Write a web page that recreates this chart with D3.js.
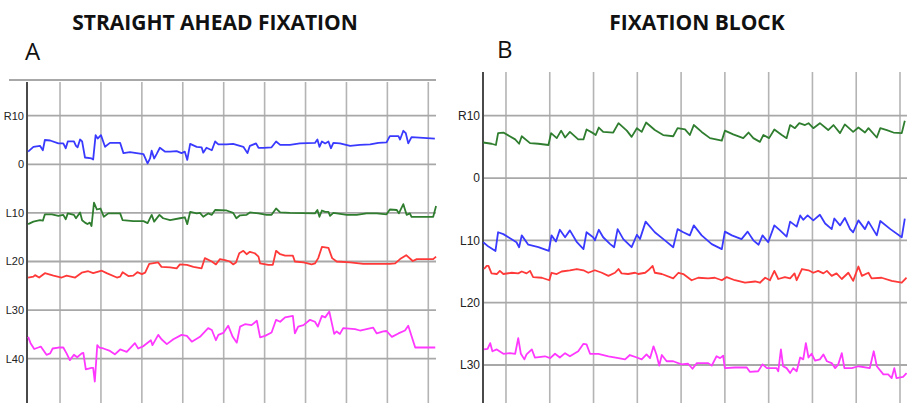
<!DOCTYPE html>
<html>
<head>
<meta charset="utf-8">
<script src="https://cdn.jsdelivr.net/npm/d3@7"></script>
<style>
  body { margin: 0; background: #fff; }
  svg { display: block; }
</style>
</head>
<body>
<div id="chart"></div>
<script>
// eye position traces, [time (s), position (deg, R positive / L negative)]
const aBlue = [[0.22,2.6],[0.35,3.6],[0.51,3.8],[0.58,2.9],[0.63,5.0],[0.76,4.9],[0.96,4.3],[1.08,4.3],[1.14,3.3],[1.19,4.7],[1.34,4.7],[1.39,3.8],[1.43,3.5],[1.49,5.1],[1.54,4.7],[1.61,1.4],[1.77,1.2],[1.81,1.0],[1.87,6.0],[1.92,5.3],[2.00,6.0],[2.10,3.6],[2.22,4.4],[2.47,4.4],[2.55,2.3],[2.71,2.5],[2.87,2.3],[3.04,2.1],[3.14,0.2],[3.20,1.2],[3.24,2.8],[3.30,1.2],[3.36,2.1],[3.44,3.4],[3.57,2.6],[3.69,2.6],[3.85,2.7],[3.97,2.3],[4.05,2.6],[4.11,0.9],[4.18,4.2],[4.34,3.6],[4.46,3.5],[4.50,2.4],[4.58,3.4],[4.71,2.9],[4.79,4.7],[4.87,4.1],[5.07,4.1],[5.23,4.2],[5.48,3.6],[5.58,2.3],[5.64,3.8],[5.79,4.3],[5.85,3.4],[5.97,3.4],[6.17,3.5],[6.28,4.7],[6.38,4.0],[6.62,4.0],[6.86,4.3],[7.23,4.4],[7.29,5.1],[7.34,3.6],[7.40,4.7],[7.48,4.3],[7.56,4.7],[7.62,3.3],[7.68,4.4],[7.84,4.3],[8.09,3.8],[8.33,4.0],[8.58,4.1],[8.78,4.4],[8.98,4.5],[9.06,5.8],[9.27,5.8],[9.31,5.1],[9.39,6.9],[9.45,6.4],[9.51,4.3],[9.59,5.6],[10.16,5.3]];
const aGreen = [[0.22,-12.3],[0.35,-11.8],[0.51,-11.5],[0.58,-11.6],[0.63,-10.3],[0.80,-10.3],[0.96,-10.6],[1.08,-10.4],[1.14,-11.3],[1.19,-10.1],[1.34,-10.4],[1.39,-11.1],[1.49,-9.9],[1.54,-11.5],[1.61,-12.0],[1.67,-12.3],[1.73,-12.0],[1.77,-12.7],[1.83,-7.9],[1.90,-9.3],[1.99,-9.1],[2.07,-10.8],[2.18,-10.1],[2.47,-10.1],[2.53,-11.5],[2.79,-11.7],[3.04,-11.7],[3.14,-12.1],[3.24,-10.4],[3.30,-11.8],[3.43,-10.4],[3.52,-11.1],[3.69,-11.5],[3.93,-11.1],[4.05,-10.9],[4.11,-12.3],[4.18,-9.8],[4.34,-10.1],[4.42,-10.0],[4.50,-10.8],[4.62,-10.1],[4.71,-10.4],[4.79,-9.4],[5.07,-9.5],[5.23,-10.0],[5.31,-11.1],[5.40,-10.5],[5.56,-10.4],[5.64,-9.9],[5.85,-10.1],[6.05,-10.4],[6.17,-10.4],[6.28,-9.1],[6.38,-9.9],[6.62,-10.0],[7.23,-10.1],[7.29,-9.4],[7.34,-10.8],[7.40,-9.5],[7.48,-9.8],[7.56,-9.8],[7.60,-10.6],[7.68,-10.0],[8.01,-10.4],[8.25,-10.4],[8.49,-10.1],[8.74,-10.1],[8.98,-10.3],[9.06,-9.3],[9.23,-9.4],[9.28,-10.1],[9.39,-8.2],[9.47,-10.4],[9.55,-10.1],[9.59,-10.8],[10.12,-10.8],[10.19,-8.6]];
const aRed = [[0.22,-23.3],[0.35,-23.1],[0.39,-22.8],[0.49,-23.3],[0.63,-22.4],[0.84,-22.9],[1.04,-23.3],[1.16,-22.9],[1.37,-23.3],[1.53,-22.3],[1.69,-22.0],[1.81,-22.4],[2.02,-21.9],[2.14,-22.4],[2.39,-23.3],[2.47,-23.1],[2.53,-22.2],[2.67,-23.0],[2.79,-22.9],[2.89,-22.2],[3.00,-22.6],[3.08,-22.3],[3.18,-20.5],[3.40,-20.2],[3.48,-21.1],[3.69,-21.2],[3.85,-21.4],[3.93,-20.6],[4.10,-20.7],[4.26,-21.1],[4.46,-21.4],[4.54,-19.3],[4.71,-20.0],[4.81,-20.6],[4.91,-19.5],[5.03,-19.7],[5.15,-20.0],[5.23,-20.6],[5.30,-20.2],[5.38,-18.3],[5.48,-17.8],[5.56,-18.5],[5.64,-18.0],[5.76,-18.3],[5.85,-19.0],[5.89,-20.4],[6.09,-20.7],[6.20,-20.7],[6.28,-17.8],[6.38,-18.5],[6.50,-18.8],[6.69,-18.8],[6.74,-20.0],[6.95,-20.2],[7.15,-20.6],[7.23,-20.4],[7.31,-19.3],[7.40,-17.0],[7.56,-17.2],[7.65,-19.3],[7.76,-20.0],[8.09,-20.2],[8.41,-20.5],[8.74,-20.5],[9.06,-20.5],[9.19,-20.4],[9.31,-19.5],[9.46,-18.7],[9.62,-19.9],[9.72,-19.5],[10.12,-19.5],[10.19,-19.0]];
const aMagenta = [[0.22,-35.5],[0.28,-36.8],[0.37,-38.0],[0.47,-37.7],[0.53,-37.5],[0.67,-39.2],[0.76,-38.9],[0.82,-37.9],[0.96,-37.7],[1.08,-37.7],[1.16,-38.9],[1.24,-40.3],[1.34,-39.2],[1.42,-39.7],[1.53,-38.9],[1.57,-38.8],[1.63,-42.2],[1.77,-41.9],[1.81,-41.9],[1.85,-44.7],[1.91,-37.2],[1.96,-37.7],[2.06,-37.9],[2.22,-38.4],[2.34,-39.1],[2.47,-38.1],[2.63,-38.6],[2.83,-36.8],[2.91,-37.9],[3.04,-37.4],[3.22,-36.2],[3.26,-37.2],[3.40,-35.1],[3.48,-36.0],[3.61,-37.0],[3.77,-36.0],[3.97,-35.1],[4.10,-35.3],[4.22,-36.5],[4.42,-35.5],[4.62,-33.7],[4.71,-34.1],[4.81,-36.2],[4.87,-35.1],[4.99,-34.7],[5.11,-33.2],[5.22,-35.5],[5.32,-36.7],[5.40,-33.4],[5.52,-32.9],[5.68,-33.1],[5.81,-32.2],[5.89,-35.6],[6.01,-35.3],[6.17,-34.6],[6.28,-32.0],[6.38,-32.4],[6.50,-31.5],[6.69,-31.2],[6.74,-34.8],[6.82,-33.4],[6.95,-33.1],[7.11,-32.0],[7.23,-32.4],[7.30,-33.4],[7.40,-31.2],[7.48,-31.5],[7.58,-30.3],[7.70,-34.9],[7.76,-34.4],[7.84,-34.9],[7.92,-33.7],[8.21,-33.9],[8.33,-34.2],[8.49,-33.9],[8.65,-33.6],[8.74,-34.8],[8.90,-34.4],[8.98,-34.3],[9.11,-35.5],[9.27,-34.8],[9.43,-34.2],[9.51,-33.2],[9.68,-37.7],[10.17,-37.7]];

const bGreen = [[0.48,5.7],[0.67,5.5],[0.77,5.3],[0.82,7.2],[0.94,7.3],[1.21,6.2],[1.30,5.5],[1.36,6.7],[1.55,5.6],[1.74,5.5],[1.97,5.3],[2.03,7.2],[2.16,6.4],[2.26,7.6],[2.35,6.5],[2.46,7.4],[2.65,6.2],[2.77,6.2],[2.84,7.8],[2.99,7.2],[3.05,6.9],[3.12,8.1],[3.22,7.4],[3.45,7.3],[3.57,8.8],[3.76,7.6],[3.87,6.6],[3.99,8.0],[4.10,7.4],[4.20,8.9],[4.40,7.7],[4.59,6.9],[4.82,6.7],[4.92,8.0],[5.09,7.8],[5.20,6.9],[5.29,8.5],[5.47,7.4],[5.66,6.4],[5.93,6.0],[6.00,7.6],[6.19,7.0],[6.42,6.4],[6.54,7.3],[6.65,6.4],[6.80,5.8],[6.88,6.9],[7.01,6.4],[7.13,7.8],[7.30,6.9],[7.41,6.4],[7.49,8.5],[7.60,8.0],[7.70,8.8],[7.83,8.5],[7.91,8.8],[8.02,8.0],[8.17,8.8],[8.36,7.7],[8.48,8.5],[8.63,7.2],[8.74,8.6],[8.93,7.4],[9.05,8.1],[9.20,7.3],[9.28,8.0],[9.47,6.5],[9.55,8.0],[9.70,7.7],[9.85,7.3],[10.04,7.2],[10.11,9.2]];
const bBlue = [[0.48,-10.3],[0.60,-11.0],[0.76,-11.7],[0.82,-8.7],[0.94,-9.0],[1.24,-10.3],[1.30,-11.1],[1.36,-9.2],[1.51,-10.7],[1.74,-11.1],[1.98,-11.7],[2.04,-9.2],[2.14,-10.2],[2.23,-8.3],[2.35,-9.5],[2.46,-8.4],[2.62,-10.3],[2.77,-11.4],[2.84,-8.7],[2.99,-9.5],[3.03,-10.0],[3.12,-8.3],[3.22,-9.5],[3.38,-10.6],[3.47,-11.1],[3.55,-8.2],[3.68,-9.8],[3.87,-11.1],[3.99,-9.1],[4.06,-9.8],[4.19,-7.0],[4.40,-8.7],[4.63,-10.0],[4.82,-11.1],[4.92,-8.2],[5.05,-8.7],[5.20,-9.2],[5.29,-7.6],[5.47,-9.2],[5.70,-10.6],[5.93,-11.4],[6.00,-8.6],[6.16,-9.2],[6.38,-9.8],[6.52,-8.6],[6.65,-10.0],[6.77,-10.7],[6.86,-9.2],[6.99,-10.3],[7.13,-7.6],[7.26,-8.4],[7.41,-9.4],[7.49,-7.0],[7.64,-7.8],[7.72,-6.0],[7.79,-6.7],[7.89,-6.0],[8.02,-6.8],[8.17,-5.9],[8.29,-7.3],[8.44,-8.2],[8.50,-6.5],[8.63,-7.6],[8.74,-6.4],[8.86,-8.2],[8.93,-8.7],[9.05,-6.8],[9.20,-8.2],[9.28,-7.0],[9.47,-9.2],[9.55,-6.9],[9.78,-8.2],[10.04,-9.5],[10.11,-6.5]];
const bRed = [[0.50,-14.6],[0.56,-14.1],[0.60,-14.1],[0.67,-15.3],[0.79,-15.4],[0.86,-14.9],[0.94,-15.4],[1.13,-15.2],[1.28,-15.3],[1.36,-15.0],[1.47,-15.3],[1.55,-14.9],[1.62,-15.9],[1.82,-16.0],[1.99,-16.4],[2.04,-15.2],[2.16,-15.4],[2.27,-15.0],[2.46,-14.8],[2.62,-14.6],[2.77,-14.8],[2.88,-15.2],[3.03,-14.8],[3.19,-15.2],[3.34,-15.7],[3.49,-15.2],[3.57,-14.6],[3.64,-15.3],[3.79,-15.4],[3.95,-15.2],[4.02,-15.4],[4.18,-15.2],[4.25,-14.8],[4.35,-14.1],[4.40,-15.2],[4.56,-15.4],[4.82,-16.1],[4.94,-15.2],[5.05,-15.4],[5.24,-16.4],[5.39,-16.0],[5.62,-16.1],[5.77,-16.0],[5.93,-16.4],[6.04,-15.9],[6.23,-16.4],[6.46,-16.8],[6.69,-16.6],[6.80,-16.8],[6.92,-16.0],[7.03,-16.4],[7.13,-14.9],[7.22,-16.2],[7.37,-15.9],[7.49,-16.1],[7.59,-15.3],[7.64,-16.4],[7.76,-14.6],[7.91,-14.8],[8.02,-15.2],[8.13,-14.9],[8.25,-15.3],[8.33,-14.9],[8.44,-15.7],[8.55,-15.3],[8.67,-16.2],[8.82,-15.2],[8.93,-16.5],[9.05,-14.2],[9.13,-15.7],[9.28,-15.2],[9.35,-16.1],[9.58,-16.0],[9.81,-16.5],[10.04,-16.8],[10.15,-16.0]];
const bMagenta = [[0.50,-27.5],[0.58,-27.4],[0.64,-26.5],[0.69,-27.8],[0.79,-27.5],[0.94,-28.2],[1.09,-28.1],[1.21,-28.2],[1.28,-25.7],[1.34,-28.2],[1.42,-29.1],[1.47,-28.3],[1.59,-27.5],[1.66,-28.8],[1.89,-28.6],[2.01,-28.9],[2.12,-28.2],[2.23,-28.8],[2.35,-28.1],[2.46,-28.6],[2.65,-27.8],[2.77,-26.6],[2.84,-26.7],[2.92,-28.2],[3.11,-28.2],[3.34,-28.6],[3.57,-28.9],[3.72,-29.1],[3.83,-28.4],[3.99,-28.8],[4.10,-29.1],[4.21,-28.3],[4.29,-28.9],[4.37,-27.0],[4.44,-28.4],[4.50,-30.1],[4.56,-28.4],[4.67,-29.4],[4.82,-29.4],[5.01,-29.9],[5.16,-29.8],[5.26,-30.6],[5.36,-29.7],[5.62,-29.7],[5.70,-30.1],[5.81,-28.6],[5.89,-28.9],[5.96,-28.5],[6.00,-30.5],[6.23,-30.4],[6.50,-30.4],[6.57,-31.1],[6.76,-31.0],[6.86,-29.9],[6.96,-30.5],[7.18,-30.5],[7.22,-31.0],[7.28,-27.5],[7.33,-30.2],[7.41,-30.5],[7.49,-31.3],[7.56,-30.5],[7.64,-31.0],[7.72,-28.8],[7.79,-29.1],[7.85,-26.5],[7.91,-28.8],[7.98,-28.2],[8.06,-29.3],[8.17,-29.1],[8.25,-28.3],[8.33,-29.4],[8.44,-29.7],[8.52,-30.5],[8.59,-29.9],[8.67,-28.1],[8.73,-30.5],[8.90,-30.5],[9.05,-30.2],[9.31,-30.5],[9.40,-27.8],[9.47,-30.2],[9.62,-31.5],[9.73,-31.5],[9.81,-32.1],[9.87,-30.5],[9.92,-32.1],[10.07,-31.9],[10.15,-31.3]];

const aTicks = [10, 0, -10, -20, -30, -40];
const aTickLabels = ['R10', '0', 'L10', 'L20', 'L30', 'L40'];
const bTicks = [10, 0, -10, -20, -30];
const bTickLabels = ['R10', '0', 'L10', 'L20', 'L30'];
const timeTicks = [1, 2, 3, 4, 5, 6, 7, 8, 9, 10];

const width = 907;
const height = 403;

const svg = d3
  .select('#chart')
  .append('svg')
  .attr('width', width)
  .attr('height', height)
  .style('background-color', '#fff');

const gridColor = '#b4b4b4';

/**
 * one recording panel: axis, grid, labels and traces
 */
const drawPanel = function(p) {
  const x = d3.scaleLinear().domain([0, 10]).range(p.xRange);
  const y = d3.scaleLinear().domain(p.yDomain).range(p.yRange);
  const g = svg.append('g');

  if (p.topLine) {
    g.append('line')
      .attr('x1', p.topLine[0]).attr('x2', p.right)
      .attr('y1', p.topLine[1]).attr('y2', p.topLine[1])
      .attr('stroke', '#a8a8a8').attr('stroke-width', 2);
  }

  // vertical grid
  g.selectAll('line.vgrid')
    .data(timeTicks)
    .enter()
    .append('line')
    .attr('class', 'vgrid')
    .attr('x1', d => x(d)).attr('x2', d => x(d))
    .attr('y1', p.gridTop).attr('y2', height)
    .attr('stroke', gridColor).attr('stroke-width', 1.6);

  // horizontal grid
  g.selectAll('line.hgrid')
    .data(p.ticks)
    .enter()
    .append('line')
    .attr('class', 'hgrid')
    .attr('x1', p.axisX).attr('x2', p.right)
    .attr('y1', d => y(d)).attr('y2', d => y(d))
    .attr('stroke', '#a8a8a8').attr('stroke-width', 1.8);

  // left axis
  g.append('line')
    .attr('x1', p.axisX).attr('x2', p.axisX)
    .attr('y1', p.gridTop).attr('y2', height)
    .attr('stroke', '#4a4a4a').attr('stroke-width', 2);

  g.selectAll('text.tick')
    .data(p.ticks)
    .enter()
    .append('text')
    .attr('class', 'tick')
    .attr('x', p.axisX - 3)
    .attr('y', d => y(d) + p.labelSize * 0.36)
    .attr('text-anchor', 'end')
    .style('font-family', '"Liberation Sans Narrow", "Arial Narrow", sans-serif')
    .style('font-size', p.labelSize + 'px')
    .attr('fill', '#222')
    .text((d, i) => p.tickLabels[i]);

  const line = d3.line().x(d => x(d[0])).y(d => y(d[1]));

  p.traces.forEach(tr => {
    g.append('path')
      .datum(tr.data)
      .attr('d', line)
      .attr('fill', 'none')
      .attr('stroke', tr.color)
      .attr('stroke-width', 1.8)
      .attr('stroke-linejoin', 'round');
  });

  svg.append('text')
    .attr('x', p.titleX).attr('y', 30)
    .attr('text-anchor', 'middle')
    .style('font-family', '"Open Sans", sans-serif')
    .style('font-weight', 700)
    .style('font-size', '21px')
    .attr('fill', '#111')
    .text(p.title);

  svg.append('text')
    .attr('x', p.letterX).attr('y', p.letterY)
    .style('font-family', '"Open Sans", sans-serif')
    .style('font-size', '24px')
    .attr('fill', '#111')
    .text(p.letter);
};

drawPanel({
  title: 'STRAIGHT AHEAD FIXATION',
  titleX: 215,
  letter: 'A',
  letterX: 25,
  letterY: 60,
  xRange: [19.1, 428.3],
  yDomain: [10, -40],
  yRange: [115.7, 358.7],
  axisX: 27,
  right: 436,
  gridTop: 82,
  topLine: [9, 80],
  ticks: aTicks,
  tickLabels: aTickLabels,
  labelSize: 11,
  traces: [
    { data: aBlue, color: '#3a3aff' },
    { data: aGreen, color: '#2f7d2f' },
    { data: aRed, color: '#ff3838' },
    { data: aMagenta, color: '#ff38ff' },
  ],
});

drawPanel({
  title: 'FIXATION BLOCK',
  titleX: 697,
  letter: 'B',
  letterX: 497,
  letterY: 58,
  xRange: [462.2, 900],
  yDomain: [10, -30],
  yRange: [115.7, 365],
  axisX: 483,
  right: 907,
  gridTop: 72,
  topLine: null,
  ticks: bTicks,
  tickLabels: bTickLabels,
  labelSize: 12,
  traces: [
    { data: bGreen, color: '#2f7d2f' },
    { data: bBlue, color: '#3a3aff' },
    { data: bRed, color: '#ff3838' },
    { data: bMagenta, color: '#ff38ff' },
  ],
});
</script>
</body>
</html>
